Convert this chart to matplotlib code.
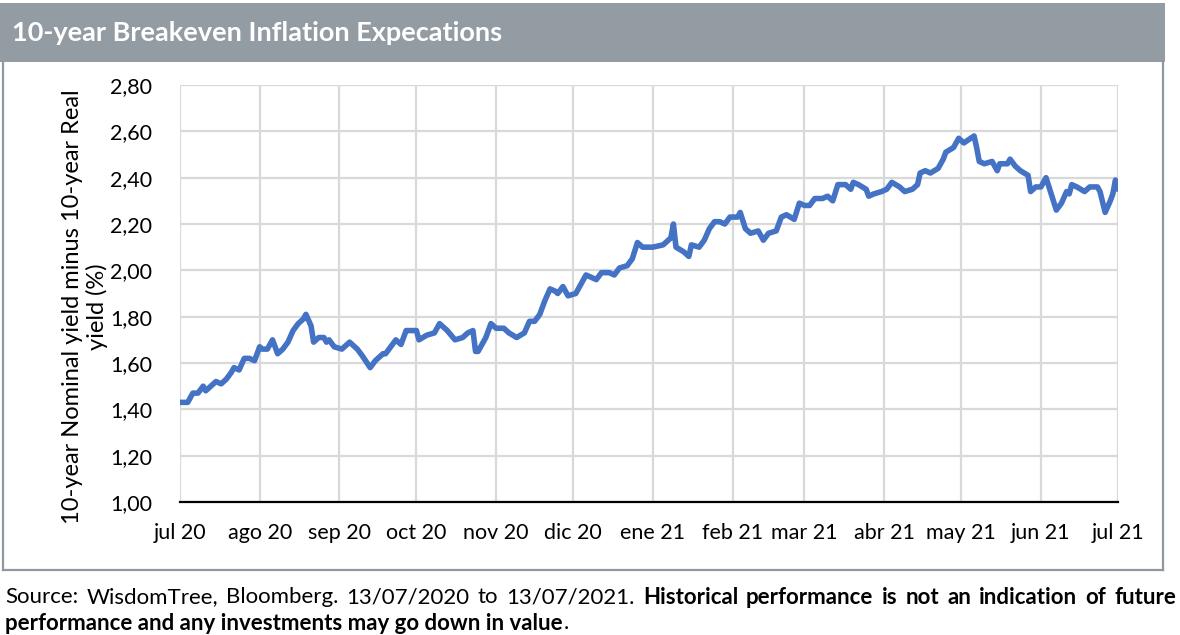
import pandas as pd
import matplotlib

matplotlib.use("Agg")
from matplotlib import pyplot as plt  # noqa: E402
from matplotlib.patches import Rectangle  # noqa: E402
from matplotlib.lines import Line2D  # noqa: E402

# data: days since 13/07/2020 and breakeven in %
start = pd.Timestamp("2020-07-13")
day_offsets = [
    0, 3, 5, 7, 9, 10, 12, 14, 16, 18, 20, 21, 23, 25, 27, 29, 30, 31, 32, 34,
    36, 38, 40, 42, 44, 46, 48, 49, 51, 52, 54, 56, 57, 58, 60, 63, 66, 69, 71,
    74, 76, 79, 80, 82, 84, 86, 88, 90, 92, 93, 96, 99, 101, 104, 107, 110,
    112, 114, 115, 116, 119, 121, 123, 126, 128, 131, 134, 136, 138, 140, 142,
    144, 146, 147, 149, 151, 154, 156, 158, 160, 162, 164, 167, 169, 171, 174,
    176, 178, 180, 182, 184, 188, 191, 192, 193, 196, 198, 199, 202, 204, 206,
    208, 210, 212, 214, 217, 218, 220, 222, 225, 227, 229, 232, 234, 236, 239,
    241, 243, 245, 247, 250, 252, 254, 256, 259, 261, 262, 264, 267, 268, 270,
    273, 275, 277, 280, 282, 285, 287, 288, 290, 292, 295, 297, 298, 301, 303,
    305, 309, 310, 311, 313, 316, 318, 319, 322, 323, 325, 327, 330, 331, 333,
    335, 337, 339, 341, 343, 345, 346, 347, 349, 352, 354, 357, 358, 360, 362,
    363, 364, 365,
]
breakeven = [
    1.43, 1.43, 1.47, 1.47, 1.50, 1.48, 1.50, 1.52, 1.51, 1.53, 1.56, 1.58,
    1.57, 1.62, 1.62, 1.61, 1.64, 1.67, 1.66, 1.66, 1.70, 1.64, 1.66, 1.69,
    1.74, 1.77, 1.79, 1.81, 1.76, 1.69, 1.71, 1.71, 1.69, 1.70, 1.67, 1.66,
    1.69, 1.66, 1.63, 1.58, 1.61, 1.64, 1.64, 1.67, 1.70, 1.68, 1.74, 1.74,
    1.74, 1.70, 1.72, 1.73, 1.77, 1.74, 1.70, 1.71, 1.73, 1.74, 1.65, 1.65,
    1.71, 1.77, 1.75, 1.75, 1.73, 1.71, 1.73, 1.78, 1.78, 1.81, 1.87, 1.92,
    1.91, 1.90, 1.93, 1.89, 1.90, 1.94, 1.98, 1.97, 1.96, 1.99, 1.99, 1.98,
    2.01, 2.02, 2.05, 2.12, 2.10, 2.10, 2.10, 2.11, 2.14, 2.20, 2.10, 2.08,
    2.06, 2.11, 2.10, 2.13, 2.18, 2.21, 2.21, 2.20, 2.23, 2.23, 2.25, 2.18,
    2.16, 2.17, 2.13, 2.16, 2.17, 2.23, 2.24, 2.22, 2.29, 2.28, 2.28, 2.31,
    2.31, 2.32, 2.30, 2.37, 2.37, 2.35, 2.38, 2.37, 2.35, 2.32, 2.33, 2.34,
    2.35, 2.38, 2.36, 2.34, 2.35, 2.37, 2.42, 2.43, 2.42, 2.44, 2.48, 2.51,
    2.53, 2.57, 2.55, 2.58, 2.53, 2.47, 2.46, 2.47, 2.43, 2.46, 2.46, 2.48,
    2.45, 2.43, 2.41, 2.34, 2.36, 2.36, 2.40, 2.33, 2.26, 2.29, 2.34, 2.33,
    2.37, 2.36, 2.34, 2.36, 2.36, 2.34, 2.25, 2.30, 2.33, 2.39, 2.35,
]
tick_labels = [
    "jul 20", "ago 20", "sep 20", "oct 20", "nov 20", "dic 20", "ene 21",
    "feb 21", "mar 21", "abr 21", "may 21", "jun 21", "jul 21",
]
y_ticks = [1.0, 1.2, 1.4, 1.6, 1.8, 2.0, 2.2, 2.4, 2.6, 2.8]

title = "10-year Breakeven Inflation Expecations"
ylabel = "10-year Nominal yield minus 10-year Real\nyield (%)"
source_line1 = [
    ("Source:", False), ("WisdomTree,", False), ("Bloomberg.", False),
    ("13/07/2020", False), ("to", False), ("13/07/2021.", False),
    ("Historical", True), ("performance", True), ("is", True), ("not", True),
    ("an", True), ("indication", True), ("of", True), ("future", True),
]

FONT = "Lato"
W, H = 1180, 635


def fx(px):
    return px / W


def fy(py):
    return 1 - py / H


def main():
    dates = start + pd.to_timedelta(day_offsets, unit="D")
    tick_dates = pd.date_range(start, periods=len(tick_labels),
                               freq=pd.DateOffset(months=1))

    fig = plt.figure(figsize=(W / 100, H / 100), dpi=100)

    # header bar and frame
    fig.patches.append(Rectangle((0, fy(62)), fx(1165), fy(3) - fy(62),
                                 transform=fig.transFigure,
                                 facecolor="#939ba3", edgecolor="none"))
    frame = "#8f98a1"
    for xs, ys in [([2.5, 2.5], [62, 570]), ([2.5, 1163], [570, 570]),
                   ([1163, 1163], [62, 570])]:
        fig.add_artist(Line2D([fx(v) for v in xs], [fy(v) for v in ys],
                              color=frame, linewidth=1.6,
                              transform=fig.transFigure))
    fig.text(fx(12), fy(33), title, color="white", fontsize=19.5,
             fontweight="bold", family=FONT, va="center", ha="left")

    ax = fig.add_axes([fx(180), fy(502), fx(1118) - fx(180),
                       fy(85) - fy(502)])
    ax.plot(dates, breakeven, color="#4472c4", linewidth=4.0,
            solid_joinstyle="round", solid_capstyle="round", zorder=3)

    ax.set_xlim(tick_dates[0], tick_dates[-1])
    ax.set_ylim(1.0, 2.8)
    ax.set_xticks(tick_dates)
    ax.set_xticklabels(tick_labels, family=FONT, fontsize=15.5)
    ax.set_yticks(y_ticks)
    ax.set_yticklabels([f"{v:.2f}".replace(".", ",") for v in y_ticks],
                       family=FONT, fontsize=15.5)
    ax.tick_params(length=0, pad=15)
    ax.tick_params(axis="y", pad=20)
    ax.grid(True, color="#d9d9d9", linewidth=1.6)
    ax.set_axisbelow(True)
    for side in ("top", "right", "left"):
        ax.spines[side].set_visible(False)
    ax.spines["bottom"].set_color("black")
    ax.spines["bottom"].set_linewidth(1.6)
    ax.spines["bottom"].set_zorder(2)

    fig.text(fx(85), fy(307), ylabel, rotation=90, ha="center",
             va="center", multialignment="center", family=FONT,
             fontsize=17, linespacing=1.15)

    # justified first line of the source note
    renderer = fig.canvas.get_renderer()
    left, right, base = 5, 1176, 597
    size = 16
    words = []
    for word, bold in source_line1:
        t = fig.text(0, fy(base), word, family=FONT, fontsize=size,
                     fontweight="bold" if bold else "normal", va="center")
        words.append(t)
    widths = [t.get_window_extent(renderer).width for t in words]
    gap = (right - left - sum(widths)) / (len(words) - 1)
    x = left
    for t, w in zip(words, widths):
        t.set_x(fx(x))
        x += w + gap

    t2 = fig.text(fx(left), fy(623), "performance and any investments may go "
                  "down in value", family=FONT, fontsize=size,
                  fontweight="bold", va="center")
    w2 = t2.get_window_extent(renderer).width
    fig.text(fx(left + w2 + 1), fy(623), ".", family=FONT, fontsize=size,
             va="center")

    fig.savefig("out.png", dpi=100)


if __name__ == "__main__":
    main()
